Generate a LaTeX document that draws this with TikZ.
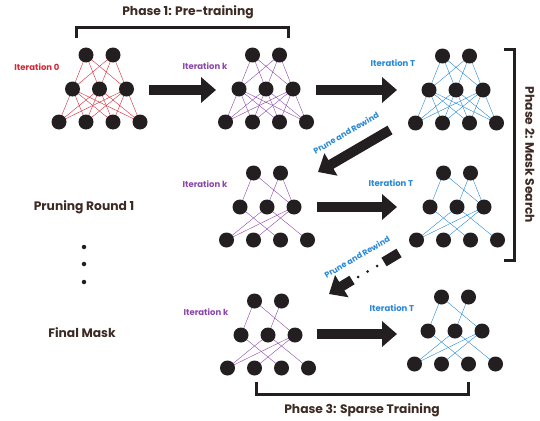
\documentclass[tikz,border=0pt]{standalone}
\usepackage{fontspec}
\setmainfont{Poppins}
\usepackage{tikz}
\usetikzlibrary{arrows.meta,backgrounds,calc,positioning}

\definecolor{itred}{RGB}{210,40,55}
\definecolor{itpurple}{RGB}{140,70,170}
\definecolor{itblue}{RGB}{40,135,215}
\definecolor{phasebrown}{RGB}{60,42,35}
\definecolor{neuronblack}{RGB}{35,31,32}

\begin{document}
\begin{tikzpicture}[x=1pt,y=-1pt,
	neuron/.style={circle,fill=neuronblack,minimum size=15pt,inner sep=0pt},
	itlabel/.style={font=\fontsize{8.5}{10}\selectfont\bfseries},
	prlabel/.style={font=\fontsize{8}{10}\selectfont\bfseries,text=itblue,rotate=30},
	phaselabel/.style={font=\fontsize{12.3}{14}\selectfont\bfseries,text=phasebrown},
	bracket/.style={line width=3pt,neuronblack},
	bigarrow/.style={line width=10pt,neuronblack,-{Triangle[width=25pt,length=15pt]}},
	tailbar/.style={line width=10pt,neuronblack},
	smalldot/.style={circle,fill=neuronblack,minimum size=3pt,inner sep=0pt},
	bigdot/.style={circle,fill=neuronblack,minimum size=4.5pt,inner sep=0pt}]
	\useasboundingbox (0,0) rectangle (540,420);

	% the seven networks: top, middle and bottom layer
	\foreach \n/\cx/\cy in {n1/99.5/55,n2/266/55,n3/456/56,n4/267/173,n5/457/173,n6/268/301,n7/455/297} {
		\node[neuron] (\n-t1) at (\cx-13.5,\cy) {};
		\node[neuron] (\n-t2) at (\cx+13.5,\cy) {};
		\node[neuron] (\n-m1) at (\cx-27,\cy+34) {};
		\node[neuron] (\n-m2) at (\cx,\cy+34) {};
		\node[neuron] (\n-m3) at (\cx+27,\cy+34) {};
		\node[neuron] (\n-b1) at (\cx-40.5,\cy+67) {};
		\node[neuron] (\n-b2) at (\cx-13.5,\cy+67) {};
		\node[neuron] (\n-b3) at (\cx+13.5,\cy+67) {};
		\node[neuron] (\n-b4) at (\cx+40.5,\cy+67) {};
	}

	\begin{scope}[on background layer,line width=0.9pt]
		% dense networks
		\foreach \n/\col in {n1/itred,n2/itpurple,n3/itblue} {
			\foreach \i in {1,2} \foreach \j in {1,2,3} \draw[\col] (\n-t\i.center) -- (\n-m\j.center);
			\foreach \i in {1,2,3} \foreach \j in {1,...,4} \draw[\col] (\n-m\i.center) -- (\n-b\j.center);
		}
		% pruning round 1
		\foreach \n/\col in {n4/itpurple,n5/itblue}
			\foreach \a/\b in {t1/m1,t1/m3,t2/m2,t2/m3,m1/b3,m2/b4,b1/m2,b1/m3,b2/m3}
				\draw[\col] (\n-\a.center) -- (\n-\b.center);
		% final mask
		\foreach \n/\col in {n6/itpurple,n7/itblue}
			\foreach \a/\b in {t1/m1,t1/m3,t2/m2,m1/b3,m2/b4,b1/m2,b1/m3,b2/m3}
				\draw[\col] (\n-\a.center) -- (\n-\b.center);
	\end{scope}

	\node[itlabel,text=itred] (it0) at (37,67) {Iteration 0};
	\node[itlabel,text=itpurple] (itk1) at (205,66) {Iteration k};
	\node[itlabel,text=itblue] (itT1) at (393,63) {Iteration T};
	\node[itlabel,text=itpurple] (itk2) at (205,184) {Iteration k};
	\node[itlabel,text=itblue] (itT2) at (391,183) {Iteration T};
	\node[itlabel,text=itpurple] (itk3) at (206,312) {Iteration k};
	\node[itlabel,text=itblue] (itT3) at (392,308) {Iteration T};

	\node[phaselabel] (round1) at (84,207) {Pruning Round 1};
	\node[phaselabel] (final) at (82,333) {Final Mask};
	\node[bigdot] (d1) at (84,247) {};
	\node[bigdot] (d2) at (84,264) {};
	\node[bigdot] (d3) at (84,282) {};

	% arrows
	\coordinate (a1s) at (149,90);
	\coordinate (a1e) at (216,90);
	\coordinate (a2s) at (316,90);
	\coordinate (a2e) at (397,90);
	\coordinate (a3s) at (390,130);
	\coordinate (a3e) at (318,172);
	\coordinate (a4s) at (317,207);
	\coordinate (a4e) at (397,207);
	\coordinate (a5s) at (399,253);
	\coordinate (a5m) at (384,262);
	\coordinate (a5h) at (352,280);
	\coordinate (a5e) at (329,294);
	\coordinate (a6s) at (317,334);
	\coordinate (a6e) at (397,334);
	\draw[bigarrow] (a1s) -- (a1e);
	\draw[bigarrow] (a2s) -- (a2e);
	\draw[bigarrow] (a3s) -- (a3e);
	\draw[bigarrow] (a4s) -- (a4e);
	\draw[tailbar] (a5s) -- (a5m);
	\node[smalldot] (p1) at (377,266) {};
	\node[smalldot] (p2) at (367.5,271.5) {};
	\node[smalldot] (p3) at (358,277) {};
	\draw[bigarrow] (a5h) -- (a5e);
	\draw[bigarrow] (a6s) -- (a6e);

	\node[prlabel] (pr1) at (346,133) {Prune and Rewind};
	\node[prlabel] (pr2) at (357,257) {Prune and Rewind};

	% phase brackets
	\draw[bracket] (76,38) -- (76,28) -- (288,28) -- (288,38);
	\node[phaselabel] (ph1) at (188,12) {Phase 1: Pre-training};
	\draw[bracket] (504,50) -- (514,50) -- (514,260) -- (504,260);
	\node[phaselabel,rotate=-90] (ph2) at (530,155) {Phase 2: Mask Search};
	\draw[bracket] (256,382) -- (256,394) -- (468,394) -- (468,382);
	\node[phaselabel] (ph3) at (362,410) {Phase 3: Sparse Training};
\end{tikzpicture}
\end{document}
